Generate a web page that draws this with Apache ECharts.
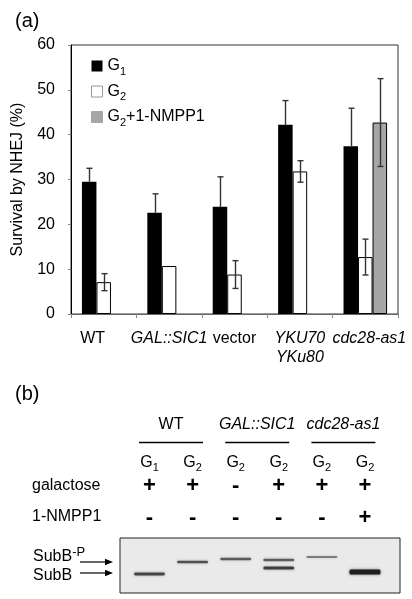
<!DOCTYPE html>
<html><head><meta charset="utf-8">
<script src="https://cdn.jsdelivr.net/npm/echarts@6/dist/echarts.min.js"></script>
<style>html,body{margin:0;padding:0;background:#fff}#c{width:412px;height:599px}</style>
</head><body><div id="c"></div>
<script>
// ---------- (a) bar chart data ----------
const categories = ['WT', 'GAL::SIC1', 'vector', 'YKU70\nYKu80', 'cdc28-as1'];
const seriesNames = ['G1', 'G2', 'G2+1-NMPP1'];
const g1Values = [29.5, 22.6, 23.9, 42.2, 37.4];
const g1Errors = [3.0, 4.2, 6.7, 5.4, 8.5];
const g2Values = [7.1, 10.7, 8.8, 31.8, 12.7];
const g2Errors = [1.9, null, 3.1, 2.4, 4.0];
const g3Values = [null, null, null, null, 42.7];
const g3Errors = [null, null, null, null, 9.8];
const yTickValues = [0, 10, 20, 30, 40, 50, 60];

// ---------- (b) blot data ----------
const strainNames = ['WT', 'GAL::SIC1', 'cdc28-as1'];
const strainLanes = [[0, 1], [2, 3], [4, 5]];
const lanePhase = ['G1', 'G2', 'G2', 'G2', 'G2', 'G2'];
const galactose = ['+', '+', '-', '+', '+', '+'];
const nmpp1 = ['-', '-', '-', '-', '-', '+'];
// [lane, migration (distance from top of gel), intensity]
const bands = [[0, 36, 0.75], [1, 24, 0.7], [2, 21, 0.65], [3, 22, 0.65], [3, 30, 0.8], [4, 19, 0.5], [5, 34, 1.0]];
const bandMarkerNames = ['SubB-P', 'SubB'];
const bandMarkerPos = [24, 35];

const FONT = 'Liberation Sans, Arial, Helvetica, sans-serif';
const italicNames = new Set(['GAL::SIC1', 'YKU70', 'YKu80', 'cdc28-as1']);
const BAR_FRAC = 0.222;

function subRich(name) {
  const m = name.match(/^G(\d)(.*)$/);
  if (!m) return '{n|' + name + '}';
  return '{n|G}{s|' + m[1] + '}' + (m[2] ? '{n|' + m[2] + '}' : '');
}

const errData = [];
[[g1Values, g1Errors], [g2Values, g2Errors], [g3Values, g3Errors]].forEach(([vals, errs], k) => {
  vals.forEach((v, i) => { if (v != null && errs[i] != null) errData.push([i, v, errs[i], k]); });
});

const chart = echarts.init(document.getElementById('c'), null, { renderer: 'canvas' });

const option = {
  animation: false,
  backgroundColor: '#fff',
  textStyle: { fontFamily: FONT },
  grid: [
    { left: 71, top: 45, width: 327, height: 269, show: true, borderColor: '#333', borderWidth: 1, backgroundColor: 'transparent' },
    { left: 120, top: 538, width: 280, height: 55, show: true, borderColor: '#222', borderWidth: 1, backgroundColor: '#eaeaea' }
  ],
  legend: {
    orient: 'vertical', left: 86, top: 53, itemWidth: 11, itemHeight: 11, itemGap: 6.5,
    icon: 'rect',
    data: [
      { name: seriesNames[0], itemStyle: { color: '#000', borderWidth: 0 } },
      { name: seriesNames[1], itemStyle: { color: '#fff', borderColor: '#999', borderWidth: 1 } },
      { name: seriesNames[2], itemStyle: { color: '#a6a6a6', borderColor: '#a6a6a6', borderWidth: 1 } }
    ],
    formatter: subRich,
    textStyle: {
      fontFamily: FONT, color: '#000', fontSize: 16,
      rich: {
        n: { fontFamily: FONT, fontSize: 16, lineHeight: 22, color: '#000', verticalAlign: 'middle' },
        s: { fontFamily: FONT, fontSize: 11, lineHeight: 11, color: '#000', verticalAlign: 'bottom' }
      }
    }
  },
  xAxis: [
    {
      type: 'category', gridIndex: 0, data: categories,
      axisLine: { lineStyle: { color: '#666', width: 1 } },
      axisTick: { show: true, length: 4, lineStyle: { color: '#888' } },
      axisLabel: {
        interval: 0, margin: 15, color: '#000', fontSize: 16, fontFamily: FONT, lineHeight: 19,
        formatter: v => v.split('\n').map(p => {
          if (p === 'WT') return '{w|' + p + '}';
          if (p === 'cdc28-as1') return '{c|' + p + '}';
          return (italicNames.has(p) ? '{i|' : '{n|') + p + '}';
        }).join('\n'),
        rich: {
          n: { fontFamily: FONT, fontSize: 16, lineHeight: 19, color: '#000' },
          w: { fontFamily: FONT, fontSize: 16, lineHeight: 19, color: '#000', padding: [0, 22, 0, 0] },
          i: { fontFamily: FONT, fontSize: 16, lineHeight: 19, color: '#000', fontStyle: 'italic' },
          c: { fontFamily: FONT, fontSize: 16, lineHeight: 19, color: '#000', fontStyle: 'italic', padding: [0, 0, 0, 8] }
        }
      },
      splitLine: { show: false }
    },
    { type: 'value', gridIndex: 1, min: -0.684, max: 5.813, show: false }
  ],
  yAxis: [
    {
      type: 'value', gridIndex: 0,
      min: yTickValues[0], max: yTickValues[yTickValues.length - 1], interval: yTickValues[1] - yTickValues[0],
      name: 'Survival by NHEJ (%)', nameLocation: 'middle', nameGap: 45,
      nameTextStyle: { fontFamily: FONT, fontSize: 16, color: '#000' },
      axisLine: { show: true, lineStyle: { color: '#000', width: 1 } },
      axisTick: { show: true, length: 3, lineStyle: { color: '#888' } },
      axisLabel: { color: '#000', fontSize: 16, fontFamily: FONT, margin: 16 },
      splitLine: { show: false }
    },
    { type: 'value', gridIndex: 1, min: 0, max: 55, inverse: true, show: false }
  ],
  series: [
    { name: seriesNames[0], type: 'bar', xAxisIndex: 0, yAxisIndex: 0, data: g1Values, barWidth: (BAR_FRAC * 100) + '%', barGap: '0%',
      itemStyle: { color: '#000' } },
    { name: seriesNames[1], type: 'bar', xAxisIndex: 0, yAxisIndex: 0, data: g2Values, barWidth: (BAR_FRAC * 100) + '%', barGap: '0%',
      itemStyle: { color: '#fff', borderColor: '#000', borderWidth: 1 } },
    { name: seriesNames[2], type: 'bar', xAxisIndex: 0, yAxisIndex: 0, data: g3Values, barWidth: (BAR_FRAC * 100) + '%', barGap: '0%',
      itemStyle: { color: '#a6a6a6', borderColor: '#000', borderWidth: 1 } },
    {
      type: 'custom', xAxisIndex: 0, yAxisIndex: 0, data: errData, z: 5, silent: true,
      encode: { x: 0, y: 1 },
      renderItem: (params, api) => {
        const cat = api.value(0), v = api.value(1), e = api.value(2), k = api.value(3);
        const catW = api.size([1, 0])[0];
        const bw = catW * BAR_FRAC;
        const cx = Math.round(api.coord([cat, 0])[0] + (k - 1) * bw) + 0.5;
        const yt = api.coord([cat, v + e])[1];
        const yb = api.coord([cat, v - e])[1];
        const ym = api.coord([cat, v])[1];
        const cap = 3;
        const st = { stroke: '#333', lineWidth: 1.4 };
        // the lower half on a solid black bar is invisible in the original
        const lowerEnd = k === 0 ? ym : yb;
        const children = [
          { type: 'line', shape: { x1: cx, y1: yt, x2: cx, y2: lowerEnd }, style: st },
          { type: 'line', shape: { x1: cx - cap, y1: yt, x2: cx + cap, y2: yt }, style: st }
        ];
        if (k !== 0) children.push({ type: 'line', shape: { x1: cx - cap, y1: yb, x2: cx + cap, y2: yb }, style: st });
        return { type: 'group', children: children };
      }
    },
    {
      type: 'custom', xAxisIndex: 1, yAxisIndex: 1, data: bands, silent: true,
      encode: { x: 0, y: 1 },
      renderItem: (params, api) => {
        const p = api.coord([api.value(0), api.value(1)]);
        const a = api.value(2);
        const h = 2 + 3 * Math.pow(a, 4);
        return {
          type: 'rect',
          shape: { x: p[0] - 15.5, y: p[1] - h / 2, width: 31, height: h, r: 1.5 },
          style: { fill: 'rgba(30,30,30,' + a + ')', shadowBlur: 3, shadowColor: 'rgba(30,30,30,' + (a * 0.6) + ')' }
        };
      }
    }
  ]
};
chart.setOption(option);

// ---------- (b) annotations positioned from the blot grid's axes ----------
const lanePx = i => chart.convertToPixel({ gridIndex: 1 }, [i, 0])[0];
const migPx = m => chart.convertToPixel({ gridIndex: 1 }, [0, m])[1];
const g = [];
const txt = (x, y, text, extra) => g.push(Object.assign({
  type: 'text', x: x, y: y,
  style: Object.assign({ text: text, fontFamily: FONT, fontSize: 16, fill: '#000', align: 'center', verticalAlign: 'middle' }, extra || {})
}));
txt(15, 21, '(a)', { fontSize: 20, align: 'left' });
txt(15, 394, '(b)', { fontSize: 20, align: 'left' });

strainNames.forEach((name, s) => {
  const [a, b] = strainLanes[s];
  const mid = (lanePx(a) + lanePx(b)) / 2;
  txt(mid, 425, name, italicNames.has(name) ? { fontStyle: 'italic' } : {});
  g.push({ type: 'line', shape: { x1: mid - 32, y1: 442.5, x2: mid + 32, y2: 442.5 }, style: { stroke: '#000', lineWidth: 1.3 } });
});
lanePhase.forEach((ph, i) => {
  txt(lanePx(i), 463, subRich(ph), {
    rich: {
      n: { fontFamily: FONT, fontSize: 16, lineHeight: 20, fill: '#000', verticalAlign: 'middle' },
      s: { fontFamily: FONT, fontSize: 11, lineHeight: 10, fill: '#000', verticalAlign: 'bottom' }
    }
  });
});
txt(32, 486, 'galactose', { align: 'left' });
txt(32, 517, '1-NMPP1', { align: 'left' });
galactose.forEach((v, i) => txt(lanePx(i), 486, v, { fontSize: 22, fontWeight: 'bold' }));
nmpp1.forEach((v, i) => txt(lanePx(i), 518, v, { fontSize: 22, fontWeight: 'bold' }));

bandMarkerNames.forEach((name, k) => {
  const y = migPx(bandMarkerPos[k]);
  if (name.endsWith('-P')) {
    txt(33, y - 5, '{n|SubB}{p|-P}', {
      align: 'left',
      rich: {
        n: { fontFamily: FONT, fontSize: 16, lineHeight: 22, fill: '#000', verticalAlign: 'middle' },
        p: { fontFamily: FONT, fontSize: 13, lineHeight: 12, fill: '#000', verticalAlign: 'top' }
      }
    });
  } else {
    txt(33, y + 3, name, { align: 'left' });
  }
  g.push({ type: 'line', shape: { x1: 80, y1: y, x2: 108, y2: y }, style: { stroke: '#000', lineWidth: 1.2 } });
  g.push({ type: 'polygon', shape: { points: [[113, y], [105, y - 3.2], [105, y + 3.2]] }, style: { fill: '#000' } });
});
chart.setOption({ graphic: g });
</script>
</body></html>
